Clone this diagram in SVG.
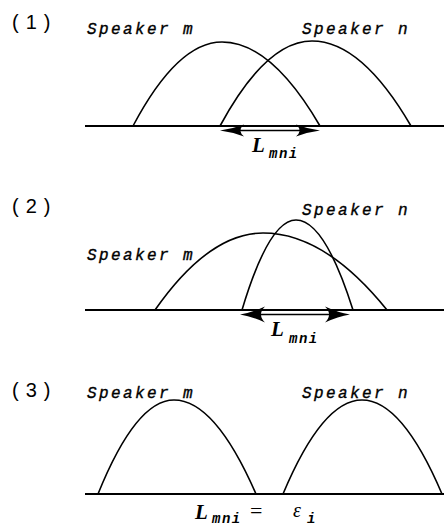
<svg xmlns="http://www.w3.org/2000/svg" width="444" height="527" viewBox="0 0 444 527">
<style>
.num{font-family:"Liberation Sans",Arial,sans-serif;font-size:20px;letter-spacing:7px;fill:#000}
.spk{font-family:"Liberation Mono","Courier New",monospace;font-style:italic;font-size:16px;letter-spacing:2.4px;fill:#000;stroke:#000;stroke-width:0.35}
.L{font-family:"Liberation Serif","Times New Roman",serif;font-style:italic;font-weight:bold;font-size:21px;fill:#000}
.sub{font-family:"Liberation Mono","Courier New",monospace;font-style:italic;font-weight:bold;font-size:14px;letter-spacing:1.5px;fill:#000}
.eq{font-family:"Liberation Serif","Times New Roman",serif;font-size:22px;fill:#000}
.eps{font-family:"Liberation Serif","Times New Roman",serif;font-style:italic;font-size:20px;fill:#000}
.ax{stroke:#000;stroke-width:1.8;fill:none}
.cv{stroke:#000;stroke-width:1.6;fill:none}
.sh{stroke:#000;stroke-width:1.6;fill:none}
.hd{fill:#000;stroke:none}
</style>

<g id="panel1">
  <text class="num" x="12" y="29">(1)</text>
  <line class="ax" x1="85" y1="126" x2="444" y2="126"/>
  <g id="p1-speaker-m">
    <text class="spk" x="87" y="34">Speaker m</text>
    <path class="cv" d="M133,126 Q177.5,42 222,42 Q271,42 320,126"/>
  </g>
  <g id="p1-speaker-n">
    <text class="spk" x="302" y="34">Speaker n</text>
    <path class="cv" d="M220,126 Q266,41 312,41 Q361.5,41 411,126"/>
  </g>
  <g id="p1-label">
    <text class="L" x="252" y="152">L</text>
    <text class="sub" x="269" y="158">mni</text>
  </g>
</g>

<g id="panel2">
  <text class="num" x="12" y="213">(2)</text>
  <line class="ax" x1="85" y1="310" x2="444" y2="310"/>
  <g id="p2-speaker-m">
    <text class="spk" x="87" y="260">Speaker m</text>
    <path class="cv" d="M155,310 Q209,233 263,233 Q325,233 387,310"/>
  </g>
  <g id="p2-speaker-n">
    <text class="spk" x="302" y="215">Speaker n</text>
    <path class="cv" d="M242,310 Q269,220 296,220 Q324.5,220 353,310"/>
  </g>
  <g id="p2-label">
    <text class="L" x="271" y="336">L</text>
    <text class="sub" x="289" y="343">mni</text>
  </g>
</g>

<g id="panel3">
  <text class="num" x="12" y="397">(3)</text>
  <line class="ax" x1="85" y1="494" x2="444" y2="494"/>
  <g id="p3-speaker-m">
    <text class="spk" x="87" y="398">Speaker m</text>
    <path class="cv" d="M98,494 Q136,400 174,400 Q215,400 256,494"/>
  </g>
  <g id="p3-speaker-n">
    <text class="spk" x="302" y="398">Speaker n</text>
    <path class="cv" d="M283,494 Q322.5,400 362,400 Q402,400 442,494"/>
  </g>
  <g id="p3-label">
    <text class="L" x="195" y="519">L</text>
    <text class="sub" x="212" y="523">mni</text>
    <text class="eq" x="250" y="518">=</text>
    <text class="eps" x="293" y="517">ε</text>
    <text class="sub" x="307" y="523">i</text>
  </g>
</g>

<g id="connectors">
  <line class="sh" x1="232" y1="130.5" x2="308" y2="130.5"/>
  <path class="hd" d="M220,130.5 Q232,129 244,124.5 Q237,130.5 244,136.5 Q232,132 220,130.5 Z"/>
  <path class="hd" d="M320,130.5 Q308,129 296,124.5 Q303,130.5 296,136.5 Q308,132 320,130.5 Z"/>
  <line class="sh" x1="254" y1="314.5" x2="336" y2="314.5"/>
  <path class="hd" d="M240,314.5 Q252,312.5 265,306.5 Q257,314.5 265,322.5 Q252,316.5 240,314.5 Z"/>
  <path class="hd" d="M350,314.5 Q338,312.5 325,306.5 Q333,314.5 325,322.5 Q338,316.5 350,314.5 Z"/>
</g>
</svg>
